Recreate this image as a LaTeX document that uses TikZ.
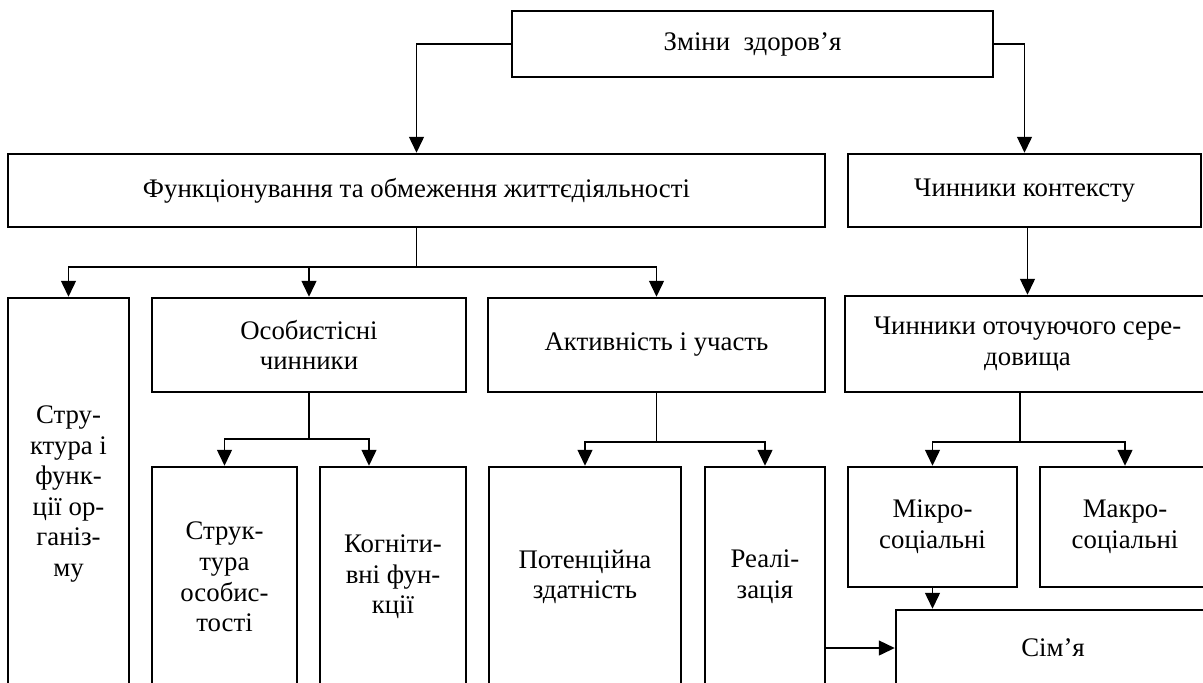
\documentclass[tikz,border=0pt]{standalone}
\usepackage{fontspec}
\setmainfont{Liberation Serif}
\usetikzlibrary{arrows.meta}
\tikzset{
  box/.style={draw, line width=1.25pt, inner sep=0pt, align=center,
    font=\fontsize{13.4}{15.3}\selectfont},
  conn/.style={line width=0.7pt},
  arr/.style={conn, -{Triangle[length=8pt,width=7.5pt]}}
}
\begin{document}
\fontsize{13.4}{15.3}\selectfont
\begin{tikzpicture}[x=0.5pt,y=-0.5pt]
\useasboundingbox (0,0) rectangle (1203,682);
\clip (0,0) rectangle (1203,682);
% level 1
\node[box, minimum width=240.5pt, minimum height=33pt] (T) at (752.5,44) {Зміни~~здоров’я};
% level 2
\node[box, minimum width=408.5pt, minimum height=36.5pt] (F) at (416.5,190.5) {Функціонування та обмеження життєдіяльності};
\node[box, minimum width=176.5pt, minimum height=36.5pt] (C) at (1024.5,190.5) {Чинники контексту};
% level 3
\node[box, minimum width=60.5pt, minimum height=196pt] (A1) at (68.5,494) {Стру-\\ктура і\\функ-\\ції ор-\\ганіз-\\му};
\node[box, minimum width=157pt, minimum height=47pt] (A2) at (309,345) {Особистісні\\чинники};
\node[box, minimum width=168.5pt, minimum height=47pt] (A3) at (656.5,345) {Активність і участь};
\node[box, minimum width=182.5pt, minimum height=48pt] (A4) at (1027.5,344) {Чинники оточуючого сере-\\довища};
% level 4
\node[box, minimum width=72.5pt, minimum height=110pt] (B1) at (224.5,577) {Струк-\\тура\\особис-\\тості};
\node[box, minimum width=73pt, minimum height=110pt] (B2) at (393,577) {Когніти-\\вні фун-\\кції};
\node[box, minimum width=96pt, minimum height=110pt] (B3) at (585,577) {Потенційна\\здатність};
\node[box, minimum width=60pt, minimum height=110pt] (B4) at (765,577) {Реалі-\\зація};
\node[box, minimum width=84.5pt, minimum height=60pt] (B5) at (932.5,527) {Мікро-\\соціальні};
\node[box, minimum width=85pt, minimum height=60pt] (B6) at (1125,527) {Макро-\\соціальні};
\node[box, minimum width=157pt, minimum height=38pt] (S) at (1053,648) {Сім’я};
% connectors
\draw[arr] (T.west) -| (F.north);
\draw[arr] (T.east) -| (C.north);
\draw[arr] (A4.north |- C.south) -- (A4.north);
\coordinate (jF) at (416.5,267);
\draw[conn] (F.south) -- (jF);
\draw[arr] (jF) -| (A1.north);
\draw[arr] (jF) -| (A2.north);
\draw[arr] (jF) -| (A3.north);
\coordinate (j2) at (309,439);
\draw[conn] (A2.south) -- (j2);
\draw[arr] (j2) -| (B1.north);
\draw[arr] (j2) -| ([xshift=-12pt]B2.north);
\coordinate (j3) at (656.5,442);
\draw[conn] (A3.south) -- (j3);
\draw[arr] (j3) -| (B3.north);
\draw[arr] (j3) -| (B4.north);
\coordinate (j4) at (1020,442);
\draw[conn] (j4 |- A4.south) -- (j4);
\draw[arr] (j4) -| (B5.north);
\draw[arr] (j4) -| (B6.north);
\draw[arr] (B5.south) -- (B5.south |- S.north);
\draw[arr] (B4.east |- S.west) -- (S.west);
\end{tikzpicture}
\end{document}
